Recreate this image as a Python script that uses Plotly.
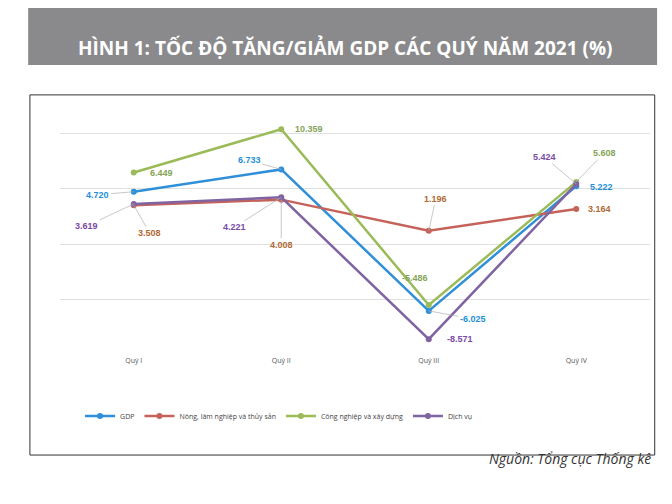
import plotly.graph_objects as go

quarters = ["Quý I", "Quý II", "Quý III", "Quý IV"]
gdp = [4.720, 6.733, -6.025, 5.222]
nong = [3.508, 4.008, 1.196, 3.164]
cong = [6.449, 10.359, -5.486, 5.608]
dich = [3.619, 4.221, -8.571, 5.424]

series = [
    ("GDP", gdp, "#2f8fd8", "#1f8fd8"),
    ("Nông, lâm nghiệp và thủy sản", nong, "#c5625a", "#b06a36"),
    ("Công nghiệp và xây dựng", cong, "#9bbb59", "#86a457"),
    ("Dịch vụ", dich, "#8064a2", "#7a4aa6"),
]

# label offsets (px) per series per quarter, and whether a leader line shows
offsets = {
    "GDP": [(-36, 3, True), (-32, -9, True), (44, 8, True), (25, 1, False)],
    "Nông, lâm nghiệp và thủy sản": [(16, 28, True), (0, 45, True), (7, -32, True), (23, 0, False)],
    "Công nghiệp và xây dựng": [(28, 0, False), (28, 0, False), (-14, -27, False), (28, -29, True)],
    "Dịch vụ": [(-47, 22, True), (-47, 30, True), (31, 0, False), (-32, -27, True)],
}

fig = go.Figure()
ann = []
for name, vals, col, tcol in series:
    fig.add_trace(go.Scatter(x=quarters, y=vals, name=name, mode="lines+markers",
                             line=dict(color=col, width=2.5), marker=dict(size=6, color=col)))
    for q, v, (ax, ay, lead) in zip(quarters, vals, offsets[name]):
        ann.append(dict(x=q, y=v, text=f"<b>{v:.3f}</b>", ax=ax, ay=ay, showarrow=True,
                        arrowhead=0, arrowwidth=0.7,
                        arrowcolor="#b0b0b0" if lead else "rgba(0,0,0,0)",
                        font=dict(size=9, color=tcol, family="Liberation Sans")))

ann.append(dict(xref="paper", yref="paper", x=0.483, y=1.32, showarrow=False,
                text="<b>HÌNH 1: TỐC ĐỘ TĂNG/GIẢM GDP CÁC QUÝ NĂM 2021 (%)</b>",
                font=dict(size=19, color="white", family="Open Sans")))
ann.append(dict(xref="paper", yref="paper", x=1.005, y=-0.47, xanchor="right", showarrow=False,
                text="<i>Nguồn: Tổng cục Thống kê</i>",
                font=dict(size=14, color="#333333", family="Open Sans")))

fig.update_layout(
    width=672, height=504,
    margin=dict(l=52, r=30, t=103, b=157),
    paper_bgcolor="white", plot_bgcolor="white",
    annotations=ann,
    shapes=[
        dict(type="rect", xref="paper", yref="paper", x0=-0.054, x1=1.012, y0=1.189, y1=1.5,
             fillcolor="#8a8a8c", line=dict(width=0), layer="below"),
        dict(type="rect", xref="paper", yref="paper", x0=-0.051, x1=1.008, y0=-0.41, y1=1.066,
             line=dict(color="#333333", width=1), layer="below"),
    ],
    xaxis=dict(range=[-0.5, 3.5], showgrid=False, tickfont=dict(size=7, color="#555555"),
               showline=False, ticks=""),
    yaxis=dict(range=[-10, 12], dtick=5, tick0=0, showticklabels=False, gridcolor="#e0e0e0",
               zeroline=False),
    legend=dict(orientation="h", x=0.034, y=-0.25, xanchor="left", yanchor="middle",
                font=dict(size=7, color="#444444"), itemwidth=30),
)

fig.write_html("out.html")
